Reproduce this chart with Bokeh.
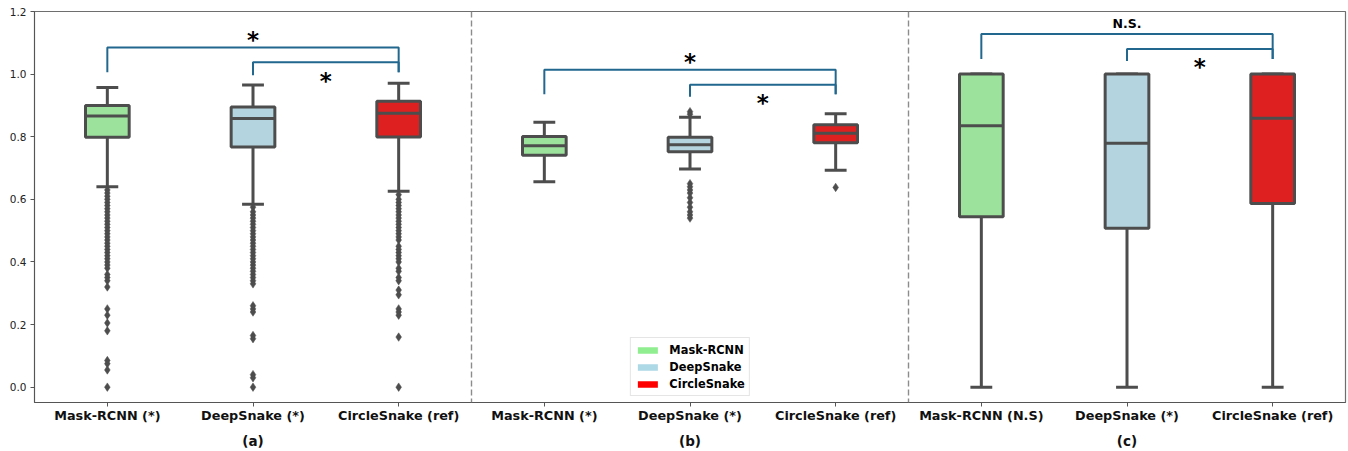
from bokeh.plotting import figure
from bokeh.models import (Range1d, LinearAxis, FixedTicker, Span, Legend, LegendItem,
                          ColumnDataSource, PrintfTickFormatter)
from bokeh.embed import file_html
from bokeh.resources import INLINE

# ---------------- data ----------------
methods = ["Mask-RCNN", "DeepSnake", "CircleSnake"]
tick_labels = ["Mask-RCNN (*)", "DeepSnake (*)", "CircleSnake (ref)",
               "Mask-RCNN (*)", "DeepSnake (*)", "CircleSnake (ref)",
               "Mask-RCNN (N.S)", "DeepSnake (*)", "CircleSnake (ref)"]
panel_labels = ["(a)", "(b)", "(c)"]
box_colors = ["#9ce29c", "#b4d4df", "#df2020"] * 3
legend_colors = ["#90ee90", "#add8e6", "#ff0000"]

whisker_low = [0.640, 0.584, 0.626, 0.656, 0.697, 0.693, 0.0, 0.0, 0.0]
q1 = [0.798, 0.767, 0.799, 0.741, 0.752, 0.781, 0.544, 0.508, 0.587]
median = [0.866, 0.858, 0.875, 0.771, 0.774, 0.811, 0.835, 0.779, 0.859]
q3 = [0.900, 0.895, 0.913, 0.801, 0.798, 0.838, 1.0, 1.0, 1.0]
whisker_high = [0.957, 0.965, 0.971, 0.846, 0.862, 0.873, 1.0, 1.0, 1.0]

outliers_a_mask = [0.63, 0.62, 0.61, 0.60, 0.59, 0.58, 0.57, 0.56, 0.55, 0.54, 0.53, 0.52,
                   0.51, 0.50, 0.49, 0.48, 0.47, 0.46, 0.45, 0.44, 0.43, 0.42, 0.41, 0.40,
                   0.39, 0.38, 0.36, 0.35, 0.34, 0.32, 0.25, 0.23, 0.205, 0.18, 0.085,
                   0.075, 0.055, 0.0]
outliers_a_deep = [0.575, 0.56, 0.55, 0.54, 0.53, 0.52, 0.51, 0.50, 0.49, 0.48, 0.47, 0.46,
                   0.45, 0.44, 0.43, 0.42, 0.41, 0.40, 0.39, 0.38, 0.37, 0.36, 0.35, 0.34,
                   0.33, 0.26, 0.25, 0.24, 0.165, 0.155, 0.04, 0.03, 0.0]
outliers_a_circle = [0.615, 0.60, 0.59, 0.58, 0.57, 0.56, 0.55, 0.54, 0.53, 0.52, 0.51, 0.50,
                     0.49, 0.48, 0.47, 0.45, 0.44, 0.43, 0.42, 0.41, 0.40, 0.38, 0.37, 0.35,
                     0.34, 0.31, 0.295, 0.25, 0.24, 0.23, 0.16, 0.0]
outliers_b_mask = []
outliers_b_deep = [0.880, 0.872, 0.650, 0.640, 0.630, 0.620, 0.605, 0.590, 0.575, 0.560,
                   0.550, 0.540]
outliers_b_circle = [0.638]
outliers_c_mask = []
outliers_c_deep = []
outliers_c_circle = []
outliers = [outliers_a_mask, outliers_a_deep, outliers_a_circle,
            outliers_b_mask, outliers_b_deep, outliers_b_circle,
            outliers_c_mask, outliers_c_deep, outliers_c_circle]

# significance brackets: (left box, right box, top y, left leg end, right leg end)
bracket_left = [0, 1, 3, 4, 6, 7]
bracket_right = [2, 2, 5, 5, 8, 8]
bracket_top = [1.085, 1.038, 1.014, 0.966, 1.128, 1.080]
bracket_leg_left = [1.006, 0.996, 0.936, 0.928, 1.048, 1.042]
bracket_leg_right = [1.006, 1.006, 0.936, 0.936, 1.048, 1.048]
sig_text = ["*", "*", "*", "*", "N.S.", "*"]
sig_x = [1.0, 1.5, 4.0, 4.5, 7.0, 7.5]
sig_y = [1.125, 0.994, 1.056, 0.923, 1.161, 1.038]

# ---------------- figure ----------------
EDGE = "#4d4d4d"
FONT = "DejaVu Sans"
BOX_W = 0.30
CAP_W = 0.15
NAN = float("nan")

p = figure(width=1348, height=451, output_backend="svg", toolbar_location=None,
           x_range=Range1d(-0.5, 8.5), y_range=Range1d(-0.049, 1.2),
           min_border_left=34, min_border_right=3, min_border_top=11, min_border_bottom=49)
p.xgrid.visible = False
p.ygrid.visible = False
p.outline_line_color = "#6e6e6e"
p.outline_line_width = 1.2

xs = list(range(len(median)))
src = ColumnDataSource(dict(
    x=xs,
    left=[x - BOX_W / 2 for x in xs], right=[x + BOX_W / 2 for x in xs],
    cl=[x - CAP_W / 2 for x in xs], cr=[x + CAP_W / 2 for x in xs],
    wl=whisker_low, q1=q1, med=median, q3=q3, wh=whisker_high, color=box_colors))

# whiskers
p.segment(x0="x", y0="q3", x1="x", y1="wh", source=src, line_color=EDGE, line_width=3)
p.segment(x0="x", y0="q1", x1="x", y1="wl", source=src, line_color=EDGE, line_width=3)
# caps
p.segment(x0="cl", y0="wh", x1="cr", y1="wh", source=src, line_color=EDGE, line_width=3)
p.segment(x0="cl", y0="wl", x1="cr", y1="wl", source=src, line_color=EDGE, line_width=3)
# boxes
p.quad(left="left", right="right", bottom="q1", top="q3", source=src,
       fill_color="color", line_color=EDGE, line_width=3)
# medians
p.segment(x0="left", y0="med", x1="right", y1="med", source=src, line_color=EDGE, line_width=3)

# outliers
ox, oy = [], []
for i, vals in enumerate(outliers):
    ox += [i] * len(vals)
    oy += vals
p.scatter(x=ox, y=oy, marker="diamond", size=8.5, fill_color=EDGE, line_color=EDGE, line_width=0.5)

# panel separators
for loc in [2.5, 5.5]:
    p.add_layout(Span(location=loc, dimension="height", line_color="#8c8c8c",
                      line_width=1.4, line_dash="6 3"))

# brackets
bxs, bys = [], []
for l, r, t, yl, yr in zip(bracket_left, bracket_right, bracket_top, bracket_leg_left, bracket_leg_right):
    bxs.append([l, l, r, r])
    bys.append([yl, t, t, yr])
p.multi_line(xs=bxs, ys=bys, line_color="#21678e", line_width=2)

# significance labels
star_idx = [i for i, t in enumerate(sig_text) if t == "*"]
ns_idx = [i for i, t in enumerate(sig_text) if t != "*"]
p.text(x=[sig_x[i] for i in star_idx], y=[sig_y[i] for i in star_idx],
       text=[sig_text[i] for i in star_idx], text_font={"value": FONT},
       text_font_style="bold", text_font_size="23px", text_align="center",
       text_baseline="middle", y_offset=5, text_color="black")
p.text(x=[sig_x[i] for i in ns_idx], y=[sig_y[i] for i in ns_idx],
       text=[sig_text[i] for i in ns_idx], text_font={"value": FONT},
       text_font_style="bold", text_font_size="12.5px", text_align="center",
       text_baseline="middle", text_color="black")

# legend (proxy patches, not drawn in the plot area)
items = []
for name, col in zip(methods, legend_colors):
    r = p.quad(left=[NAN], right=[NAN], bottom=[NAN], top=[NAN], fill_color=col, line_color=None)
    items.append(LegendItem(label=name, renderers=[r]))
legend = Legend(items=items, location="bottom_center", margin=6, padding=4,
                spacing=2, glyph_width=25, glyph_height=8, label_height=15,
                label_standoff=10, label_text_font=FONT, label_text_font_style="bold",
                label_text_font_size="11.4px", label_text_color="black",
                border_line_color="#cccccc", border_line_width=1, background_fill_alpha=0.9)
p.add_layout(legend)

# axes
xa = p.xaxis[0]
xa.ticker = FixedTicker(ticks=xs)
xa.major_label_overrides = {i: t for i, t in enumerate(tick_labels)}
xa.major_label_text_font = FONT
xa.major_label_text_font_style = "bold"
xa.major_label_text_font_size = "12.8px"
xa.major_label_text_color = "#111111"
xa.major_tick_out = 4
xa.major_tick_in = 0
xa.minor_tick_line_color = None
xa.major_label_standoff = 1
xa.axis_label_standoff = 0
xa.axis_line_color = "#555555"
xa.major_tick_line_color = "#555555"

ya = p.yaxis[0]
ya.ticker = FixedTicker(ticks=[0.0, 0.2, 0.4, 0.6, 0.8, 1.0, 1.2])
ya.formatter = PrintfTickFormatter(format="%.1f")
ya.major_label_text_font = FONT
ya.major_label_text_font_size = "10.5px"
ya.major_label_text_color = "#222222"
ya.major_tick_out = 4
ya.major_tick_in = 0
ya.minor_tick_line_color = None
ya.major_label_standoff = 4
ya.axis_line_color = "#555555"
ya.major_tick_line_color = "#555555"

pa = LinearAxis(ticker=FixedTicker(ticks=[1, 4, 7]),
                major_label_overrides={1: panel_labels[0], 4: panel_labels[1], 7: panel_labels[2]},
                axis_line_color=None, major_tick_line_color=None, minor_tick_line_color=None,
                major_tick_out=0, major_tick_in=0, major_label_standoff=7, axis_label_standoff=0,
                major_label_text_font=FONT, major_label_text_font_style="bold",
                major_label_text_font_size="13.5px", major_label_text_color="#111111")
p.add_layout(pa, "below")

open("out.html", "w").write(file_html(p, INLINE))
